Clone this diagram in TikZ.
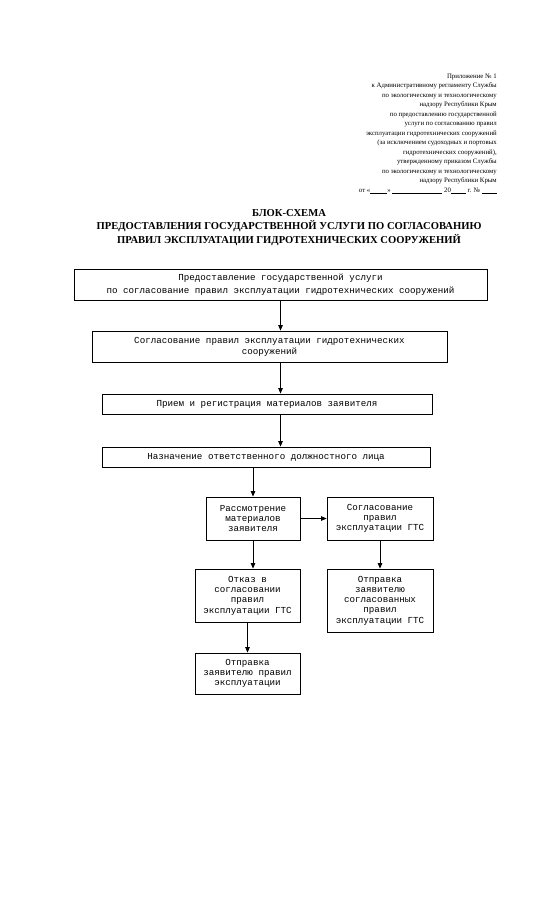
\documentclass[tikz,border=0pt]{standalone}
\usepackage{fontspec}
\setmainfont{Liberation Serif}
\newfontfamily\monofont{Liberation Mono}
\usetikzlibrary{arrows.meta,calc}
\newcommand\blankline[1]{\rule[-0.8pt]{#1}{0.4pt}}
\begin{document}
\begin{tikzpicture}[x=1pt,y=-1pt,
  box/.style={draw, line width=0.8pt, inner sep=0pt, align=center,
    font=\monofont\fontsize{9.2}{10.3}\selectfont},
  arr/.style={line width=0.7pt, -{Triangle[length=5.5pt,width=4.5pt]}},
  header/.style={inner sep=0pt, align=right, anchor=north east,
    font=\fontsize{6.8}{9.5}\selectfont},
  titletext/.style={inner sep=0pt, align=center, anchor=north,
    font=\bfseries\fontsize{10.6}{13.5}\selectfont}]
\useasboundingbox (0,0) rectangle (549,905);
\fill[white] (0,0) rectangle (549,905);

\node[header] (hdr) at (497,73.5) {Приложение № 1\\
к Административному регламенту Службы\\
по экологическому и технологическому\\
надзору Республики Крым\\
по предоставлению государственной\\
услуги по согласованию правил\\
эксплуатации гидротехнических сооружений\\
(за исключением судоходных и портовых\\
гидротехнических сооружений),\\
утвержденному приказом Службы\\
по экологическому и технологическому\\
надзору Республики Крым\\
от «\blankline{17pt}» \blankline{50pt} 20\blankline{15pt} г. № \blankline{15pt}};

\node[titletext] (ttl) at (289,209) {БЛОК-СХЕМА\\
ПРЕДОСТАВЛЕНИЯ ГОСУДАРСТВЕННОЙ УСЛУГИ ПО СОГЛАСОВАНИЮ\\
ПРАВИЛ ЭКСПЛУАТАЦИИ ГИДРОТЕХНИЧЕСКИХ СООРУЖЕНИЙ};

\node[box, minimum width=413pt, minimum height=31pt, font=\monofont\fontsize{9.2}{12.5}\selectfont] (b1) at (280.5,284.5)
  {Предоставление государственной услуги\\по согласование правил эксплуатации гидротехнических сооружений};
\node[box, minimum width=355pt, minimum height=31pt, font=\monofont\fontsize{9.2}{11}\selectfont] (b2) at (269.5,346.5)
  {Согласование правил эксплуатации гидротехнических\\сооружений};
\node[box, minimum width=330pt, minimum height=20pt] (b3) at (267,404)
  {Прием и регистрация материалов заявителя};
\node[box, minimum width=328pt, minimum height=20pt] (b4) at (266,457)
  {Назначение ответственного должностного лица};
\node[box, minimum width=94pt, minimum height=43pt] (b5) at (253,518.5)
  {Рассмотрение\\материалов\\заявителя};
\node[box, minimum width=106pt, minimum height=43pt] (b6) at (380,518.5)
  {Согласование\\правил\\эксплуатации ГТС};
\node[box, minimum width=105pt, minimum height=53pt] (b7) at (247.5,595.5)
  {Отказ в\\согласовании\\правил\\эксплуатации ГТС};
\node[box, minimum width=106pt, minimum height=63pt] (b8) at (380,600.5)
  {Отправка\\заявителю\\согласованных\\правил\\эксплуатации ГТС};
\node[box, minimum width=105pt, minimum height=41pt] (b9) at (247.5,673.5)
  {Отправка\\заявителю правил\\эксплуатации};

\draw[arr] (b1.south) -- (b1.south |- b2.north);
\draw[arr] (b2.south -| b1.south) -- (b3.north -| b1.south);
\draw[arr] (b3.south -| b1.south) -- (b4.north -| b1.south);
\draw[arr] (b4.south -| b5.north) -- (b5.north);
\draw[arr] (b5.east) -- (b6.west);
\draw[arr] (b5.south) -- (b5.south |- b7.north);
\draw[arr] (b6.south) -- (b8.north);
\draw[arr] (b7.south) -- (b9.north);
\end{tikzpicture}
\end{document}
